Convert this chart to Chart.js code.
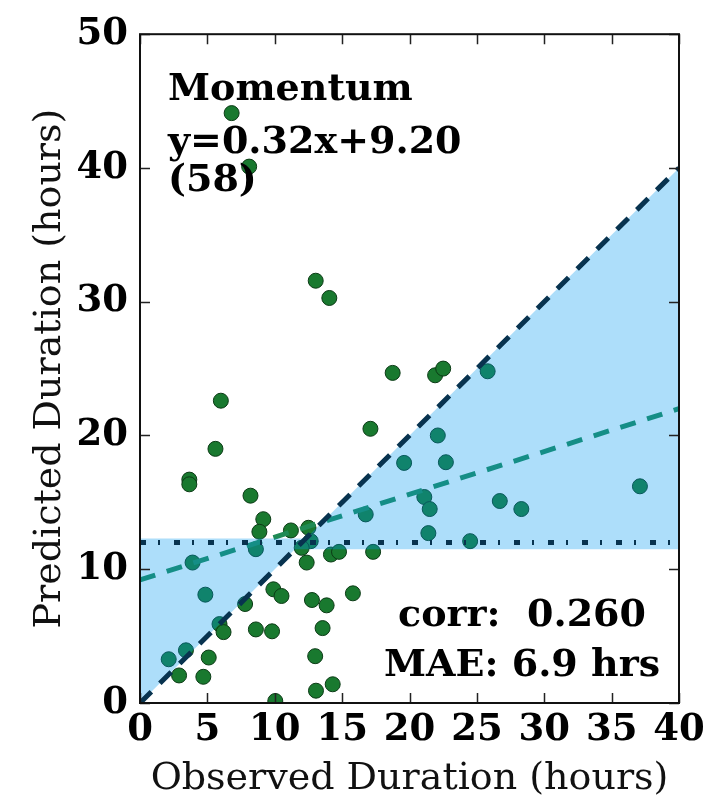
<!DOCTYPE html>
<html lang="en">
<head>
    <meta charset="UTF-8">
    <title>Momentum - Predicted vs Observed Duration</title>
    <script src="https://cdn.jsdelivr.net/npm/chart.js"></script>
    <style>
        html, body { margin: 0; padding: 0; background: #fff; }
        #wrap { width: 722px; height: 802px; }
    </style>
</head>
<body>
    <div id="wrap"><canvas id="durationChart" width="722" height="802"></canvas></div>

    <script>
        // observed vs predicted duration (hours)
        const observed = [6.0, 17.1, 5.6, 3.66, 3.66, 8.2, 9.15, 8.86, 11.2, 12.5,
            12.67, 8.6, 12.0, 12.37, 14.17, 14.77, 17.3, 3.9, 9.9, 10.5,
            4.85, 7.8, 12.76, 13.85, 15.8, 5.9, 6.2, 8.6, 9.8, 13.55,
            2.13, 3.41, 5.1, 13.0, 2.9, 4.7, 13.06, 14.3, 10.04, 19.6,
            16.75, 6.8, 8.1, 13.04, 14.05, 18.75, 21.9, 22.5, 25.8, 22.1,
            22.7, 37.1, 21.1, 21.5, 26.7, 28.3, 21.4, 24.5];
        const predicted = [22.6, 20.5, 19.0, 16.7, 16.35, 15.5, 13.74, 12.8, 12.9, 13.1,
            12.1, 11.5, 11.6, 10.5, 11.1, 11.3, 11.3, 10.5, 8.5, 8.0,
            8.1, 7.4, 7.7, 7.3, 8.2, 5.9, 5.3, 5.5, 5.36, 5.6,
            3.27, 3.94, 3.4, 3.5, 2.06, 1.96, 0.92, 1.4, 0.15, 17.95,
            14.1, 44.1, 40.1, 31.57, 30.28, 24.68, 24.5, 25.0, 24.8, 20.0,
            18.0, 16.2, 15.4, 14.5, 15.1, 14.5, 12.7, 12.1];

        const identityX = [0, 40];
        const identityY = [0, 40];
        const fitX = [0, 40];
        const fitY = [9.2, 22.0];       // y = 0.32x + 9.20
        const meanX = [0, 40];
        const meanY = [12.0, 12.0];
        const fillLeftX = [0, 12.3];
        const fillLeftY = [0, 12.3];
        const fillLeftLevel = 12.3;
        const fillRightX = [11.5, 40];
        const fillRightY = [11.5, 40];
        const fillRightLevel = 11.5;

        const xTicks = [0, 5, 10, 15, 20, 25, 30, 35, 40];
        const yTicks = [0, 10, 20, 30, 40, 50];

        const modelName = 'Momentum';
        const fitLabel = 'y=0.32x+9.20';
        const countLabel = '(58)';
        const corrLabel = 'corr:  0.260';
        const maeLabel = 'MAE: 6.9 hrs';

        const serif = "'DejaVu Serif', 'Liberation Serif', serif";
        const pts = (xs, ys) => xs.map((x, i) => ({ x: x, y: ys[i] }));

        // inward ticks, frame and text boxes
        const frameAndText = {
            id: 'frameAndText',
            afterDatasetsDraw(chart) {
                const ctx = chart.ctx;
                const a = chart.chartArea;
                const xs = chart.scales.x, ys = chart.scales.y;
                ctx.save();
                ctx.strokeStyle = '#222';
                ctx.lineWidth = 1.5;
                xTicks.forEach(v => {
                    const px = Math.round(xs.getPixelForValue(v)) + 0.5;
                    ctx.beginPath();
                    ctx.moveTo(px, a.bottom); ctx.lineTo(px, a.bottom - 10);
                    ctx.moveTo(px, a.top); ctx.lineTo(px, a.top + 10);
                    ctx.stroke();
                });
                yTicks.forEach(v => {
                    const py = Math.round(ys.getPixelForValue(v)) + 0.5;
                    ctx.beginPath();
                    ctx.moveTo(a.left, py); ctx.lineTo(a.left + 10, py);
                    ctx.moveTo(a.right, py); ctx.lineTo(a.right - 10, py);
                    ctx.stroke();
                });
                ctx.lineWidth = 2;
                ctx.strokeStyle = '#111';
                ctx.strokeRect(a.left, a.top, a.right - a.left, a.bottom - a.top);

                ctx.fillStyle = '#000';
                ctx.font = 'bold 38px ' + serif;
                ctx.textAlign = 'left';
                ctx.textBaseline = 'alphabetic';
                ctx.fillText(modelName, a.left + 28, a.top + 66);
                ctx.fillText(fitLabel, a.left + 28, a.top + 119);
                ctx.fillText(countLabel, a.left + 28, a.top + 157);
                ctx.textAlign = 'center';
                ctx.fillText(corrLabel, a.left + 382, a.top + 592);
                ctx.fillText(maeLabel, a.left + 382, a.top + 642);
                ctx.restore();
            }
        };

        new Chart(document.getElementById('durationChart'), {
            type: 'scatter',
            data: {
                datasets: [
                    {
                        type: 'line', data: pts(identityX, identityY),
                        borderColor: '#08334f', borderWidth: 5, borderDash: [16, 12],
                        pointRadius: 0, fill: false, order: 0
                    },
                    {
                        type: 'line', data: pts(meanX, meanY),
                        borderColor: '#08334f', borderWidth: 5, borderDash: [6, 12, 2, 14],
                        pointRadius: 0, fill: false, order: 0
                    },
                    {
                        type: 'line', data: pts(fillLeftX, fillLeftY),
                        borderWidth: 0, borderColor: 'rgba(0,0,0,0)', pointRadius: 0,
                        backgroundColor: 'rgba(0,153,240,0.32)', fill: { value: fillLeftLevel }, order: 1
                    },
                    {
                        type: 'line', data: pts(fillRightX, fillRightY),
                        borderWidth: 0, borderColor: 'rgba(0,0,0,0)', pointRadius: 0,
                        backgroundColor: 'rgba(0,153,240,0.32)', fill: { value: fillRightLevel }, order: 1
                    },
                    {
                        type: 'line', data: pts(fitX, fitY),
                        borderColor: '#1f8a55', borderWidth: 5, borderDash: [16, 12],
                        pointRadius: 0, fill: false, order: 2
                    },
                    {
                        data: pts(observed, predicted),
                        backgroundColor: '#19792f', borderColor: '#0b3a15', borderWidth: 1,
                        pointRadius: 7.5, order: 3
                    }
                ]
            },
            options: {
                responsive: false,
                animation: false,
                layout: { padding: { top: 31, right: 43, left: 0, bottom: 0 } },
                plugins: { legend: { display: false }, tooltip: { enabled: false } },
                scales: {
                    x: {
                        type: 'linear', min: 0, max: 40,
                        afterFit: s => { s.height = 99; },
                        afterBuildTicks: s => { s.ticks = xTicks.map(v => ({ value: v })); },
                        grid: { display: false, drawTicks: false },
                        border: { display: false },
                        ticks: { color: '#000', padding: 5, maxRotation: 0, font: { family: serif, size: 37, weight: 'bold' } },
                        title: { display: true, text: 'Observed Duration (hours)', color: '#111', padding: { top: -2, bottom: 0 }, font: { family: serif, size: 38 } }
                    },
                    y: {
                        type: 'linear', min: 0, max: 50,
                        afterFit: s => { s.width = 140; },
                        afterBuildTicks: s => { s.ticks = yTicks.map(v => ({ value: v })); },
                        grid: { display: false, drawTicks: false },
                        border: { display: false },
                        ticks: { color: '#000', padding: 12, font: { family: serif, size: 37, weight: 'bold' } },
                        title: { display: true, text: 'Predicted Duration (hours)', color: '#111', padding: { top: 27, bottom: 0 }, font: { family: serif, size: 38 } }
                    }
                }
            },
            plugins: [frameAndText]
        });
    </script>
</body>
</html>
